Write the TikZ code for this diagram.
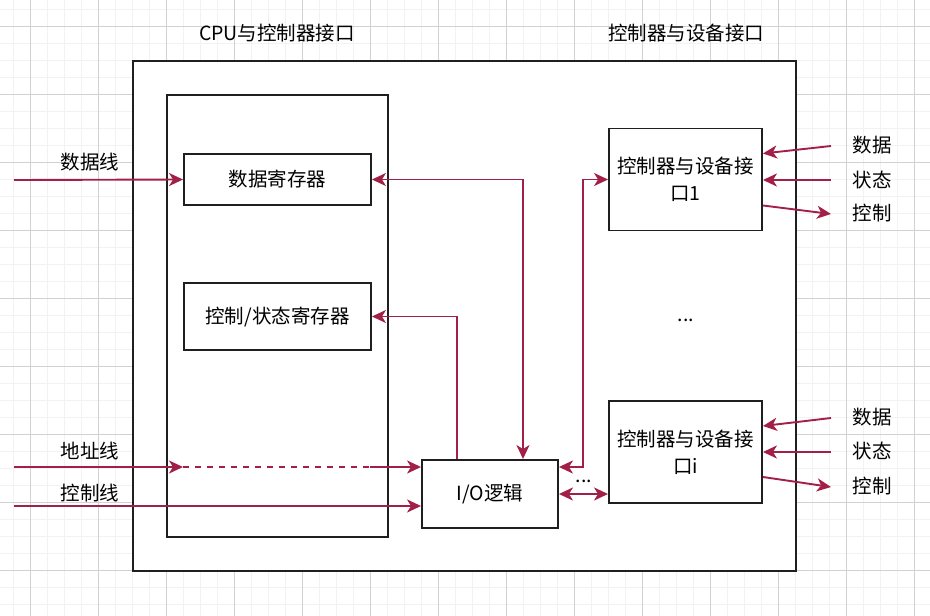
\documentclass[tikz,border=0pt]{standalone}
\usepackage{fontspec}
\setmainfont{Noto Sans CJK SC}
\usetikzlibrary{arrows.meta}
\definecolor{wire}{RGB}{162,32,72}
\definecolor{gridmin}{RGB}{242,242,242}
\definecolor{gridmaj}{RGB}{210,210,210}

\begin{document}
\begin{tikzpicture}[x=1pt,y=-1pt]
\tikzset{every node/.style={font=\fontsize{19.5}{27}\selectfont}}
\tikzset{box/.style={draw=black!88,line width=1.9pt,fill=white,inner sep=0pt,align=center}}
\tikzset{wire/.style={draw=wire,line width=1.9pt,-{Stealth[length=14pt,width=13pt,inset=4pt]}}}
\tikzset{both/.style={wire,{Stealth[length=14pt,width=13pt,inset=4pt]}-{Stealth[length=14pt,width=13pt,inset=4pt]}}}
\useasboundingbox (0,0) rectangle (930,616);
% grid
\foreach \i in {0,...,54} \draw[gridmin,line width=1.4pt] (13.3+17*\i,0) -- (13.3+17*\i,616);
\foreach \i in {0,...,36} \draw[gridmin,line width=1.4pt] (0,9.3+17*\i) -- (930,9.3+17*\i);
\foreach \i in {0,...,13} \draw[gridmaj,line width=0.9pt] (30.3+68*\i,0) -- (30.3+68*\i,616);
\foreach \i in {0,...,9} \draw[gridmaj,line width=0.9pt] (0,26.3+68*\i) -- (930,26.3+68*\i);
% boxes
\node[box,minimum width=663pt,minimum height=510pt] (outer) at (464.5,316) {};
\node[box,minimum width=221pt,minimum height=442pt] (inner) at (277.5,316) {};
\node[box,minimum width=187pt,minimum height=51pt] (datareg) at (277.5,179.5) {数据寄存器};
\node[box,minimum width=187pt,minimum height=67pt] (ctrlreg) at (277.5,316.5) {控制/状态寄存器};
\node[box,minimum width=136pt,minimum height=68pt] (iologic) at (490,494) {I/O逻辑};
\node[box,minimum width=153pt,minimum height=102pt] (dev1) at (685.5,179.5) {控制器与设备接\\口1};
\node[box,minimum width=153pt,minimum height=102pt] (devi) at (685.5,452) {控制器与设备接\\口i};
\node (dots) at (686,320) {...};
% titles
\node (cputitle) at (277,33) {CPU与控制器接口};
\node (devtitle) at (686,33) {控制器与设备接口};
% left side
\coordinate (dataIn) at (14,180);
\coordinate (addrIn) at (14,467);
\coordinate (ctrlIn) at (14,506);
\coordinate (addrMid) at (183,467);
\coordinate (addrEnd) at (370,467);
\node (datalbl) at (90,162) {数据线};
\node (addrlbl) at (90,451) {地址线};
\node (ctrllbl) at (90,493) {控制线};
\draw[wire] (dataIn) -- (datareg.west);
\draw[wire] (addrIn) -- (addrMid);
\draw[draw=wire,line width=1.9pt,dash pattern=on 6pt off 6pt] (addrMid) -- (addrEnd);
\draw[wire] (addrEnd) -- (iologic.west |- addrIn);
\draw[wire] (ctrlIn) -- (iologic.west |- ctrlIn);
% inside
\draw[wire] ([xshift=-33pt]iologic.north) |- (ctrlreg.east);
\draw[both] (datareg.east) -| ([xshift=33pt]iologic.north);
\draw[both] ([yshift=27pt]iologic.east) -- ++(24,0) |- (dev1.west);
\draw[both] (iologic.east) -- (devi.west |- iologic.east);
\node (iodots) at (584,481) {...};
% device side
\coordinate (d1data) at (831,146);
\coordinate (d1stat) at (831,180);
\coordinate (d1ctrl) at (831,214);
\coordinate (dIdata) at (831,418);
\coordinate (dIstat) at (831,452);
\coordinate (dIctrl) at (831,487);
\draw[wire] (d1data) -- ([yshift=26pt]dev1.east);
\draw[wire] (d1stat) -- (dev1.east |- d1stat);
\draw[wire] ([yshift=-26pt]dev1.east) -- (d1ctrl);
\draw[wire] (dIdata) -- ([yshift=26pt]devi.east);
\draw[wire] (dIstat) -- (devi.east |- dIstat);
\draw[wire] ([yshift=-25pt]devi.east) -- (dIctrl);
\node (d1datal) at (872,145) {数据};
\node (d1statl) at (872,180) {状态};
\node (d1ctrll) at (872,213) {控制};
\node (dIdatal) at (872,417) {数据};
\node (dIstatl) at (872,451) {状态};
\node (dIctrll) at (872,486) {控制};
\end{tikzpicture}
\end{document}
